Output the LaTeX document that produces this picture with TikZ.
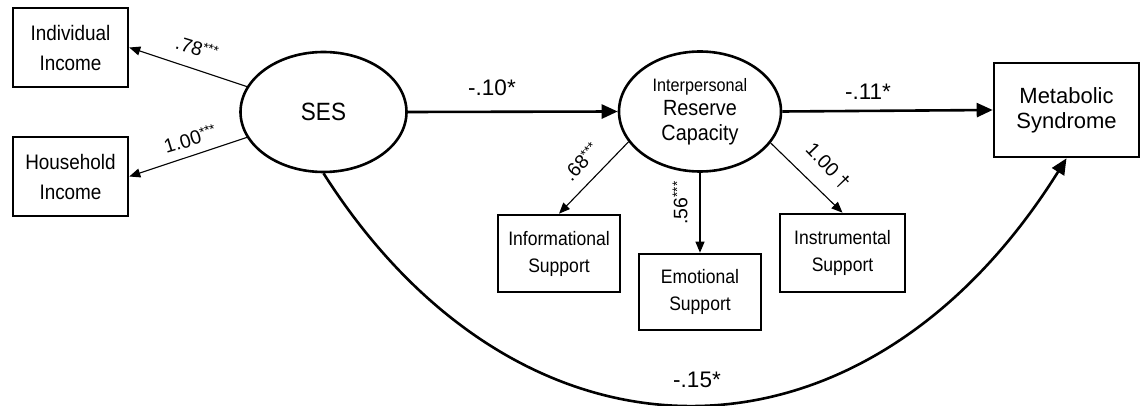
\documentclass[tikz,border=0pt]{standalone}
\usepackage{fontspec}
\setmainfont{Liberation Sans}
\newfontfamily\narrowsans[FakeStretch=0.9]{Liberation Sans}
\usetikzlibrary{shapes.geometric,arrows.meta}

\tikzset{
  obs/.style={draw, rectangle, line width=2.6pt, inner sep=0pt, align=center},
  lat/.style={draw, ellipse, line width=2.6pt, inner sep=0pt, align=center},
  thinarrow/.style={line width=1.1pt, -{Triangle[length=11pt,width=9pt]}},
  thickarrow/.style={line width=2.6pt, -{Triangle[length=16pt,width=14pt]}},
  coef/.style={inner sep=0pt, font=\fontsize{22.5}{22.5}\selectfont},
  smallcoef/.style={inner sep=0pt, font=\fontsize{19.5}{19.5}\selectfont},
}
\newcommand{\stars}[1]{\raisebox{5.5pt}{\fontsize{13.5}{13.5}\selectfont #1}}

\begin{document}
\begin{tikzpicture}[x=1pt,y=-1pt]
\useasboundingbox (0,0) rectangle (1141,406);

% indicators of SES
\node[obs, minimum width=115pt, minimum height=79pt,
      font=\narrowsans\fontsize{21}{30}\selectfont] (ii) at (70.5,47.5) {Individual\\Income};
\node[obs, minimum width=115pt, minimum height=79pt,
      font=\narrowsans\fontsize{21}{30}\selectfont] (hi) at (70.5,176.5) {Household\\Income};

% latent variables
\node[lat, minimum width=166pt, minimum height=120pt,
      font=\narrowsans\fontsize{25}{25}\selectfont] (ses) at (323.5,112) {SES};
\node[lat, minimum width=162pt, minimum height=120pt,
      font=\narrowsans\fontsize{22}{24.5}\selectfont] (irc) at (700,111.5)
  {{\fontsize{18}{24.5}\selectfont Interpersonal}\\Reserve\\Capacity};

% indicators of reserve capacity
\node[obs, minimum width=122pt, minimum height=77pt,
      font=\narrowsans\fontsize{19.5}{27}\selectfont] (info) at (559,253.5) {Informational\\Support};
\node[obs, minimum width=122pt, minimum height=76pt,
      font=\narrowsans\fontsize{19.5}{27}\selectfont] (emo) at (700,292) {Emotional\\Support};
\node[obs, minimum width=125pt, minimum height=78pt,
      font=\narrowsans\fontsize{19.5}{27}\selectfont] (instr) at (842.5,253) {Instrumental\\Support};

% outcome
\node[obs, minimum width=145pt, minimum height=94pt,
      font=\fontsize{22}{25}\selectfont] (mets) at (1066.5,110) {Metabolic\\Syndrome};

% measurement paths
\draw[thinarrow] (ses) -- (ii.east);
\draw[thinarrow] (ses) -- (hi.east);
\draw[thinarrow] (irc.203) -- (info.north);
\draw[thinarrow] (irc.south) -- (emo.north);
\draw[thinarrow] (irc.336) -- (instr.north);

% structural paths
\draw[thickarrow] (ses.east) -- (irc.west);
\draw[thickarrow] (irc.east) -- (mets.west);
\draw[thickarrow] (ses.south) .. controls (521,484) and (863,484) .. (mets.south);

% coefficients
\node[smallcoef, rotate=-17] (c1) at (197,48) {.78\stars{***}};
\node[smallcoef, rotate=17] (c2) at (190,139) {1.00\stars{***}};
\node[smallcoef, rotate=47] (c3) at (581,162) {.68\stars{***}};
\node[smallcoef, rotate=90] (c4) at (680,203) {.56\stars{***}};
\node[smallcoef, rotate=-46] (c5) at (828,166) {1.00 †};
\node[coef] (c6) at (492,88) {-.10*};
\node[coef] (c7) at (868,92) {-.11*};
\node[coef] (c8) at (697,380) {-.15*};
\end{tikzpicture}
\end{document}
